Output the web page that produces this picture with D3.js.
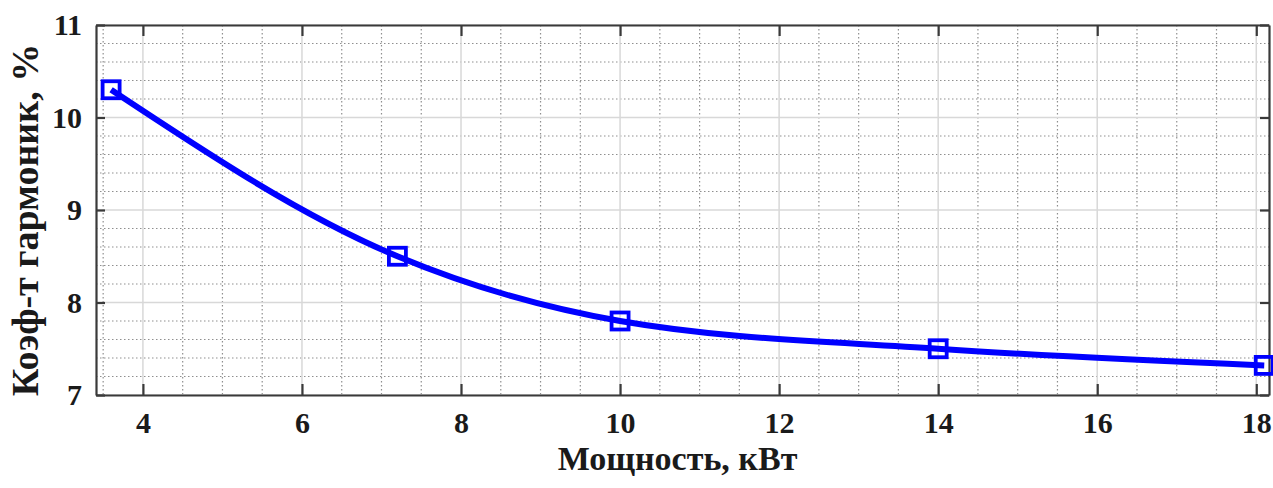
<!DOCTYPE html>
<html>
<head>
<meta charset="utf-8">
<script src="https://cdn.jsdelivr.net/npm/d3@7"></script>
<style>
  body { margin: 0; background: #fff; }
  text { font-family: "Liberation Serif", "Times New Roman", serif; font-weight: bold; fill: #1a1a1a; }
  .tick text { font-family: "Liberation Serif", serif !important; font-weight: bold; }
</style>
</head>
<body>
<div id="chart"></div>
<script>
// data
const power = [3.6, 7.2, 10, 14, 18.1];      // кВт
const harmonic = [10.3, 8.5, 7.8, 7.5, 7.32]; // %
const xTicks = [4, 6, 8, 10, 12, 14, 16, 18];
const yTicks = [7, 8, 9, 10, 11];

const width = 1273, height = 488;
const margin = {top: 25, right: 4, bottom: 93, left: 96};
const w = width - margin.left - margin.right;
const h = height - margin.top - margin.bottom;

const svg = d3.select("#chart").append("svg")
    .attr("width", width)
    .attr("height", height);

const g = svg.append("g")
    .attr("transform", `translate(${margin.left},${margin.top})`);

const x = d3.scaleLinear().domain([3.41, 18.16]).range([0, w]);
const y = d3.scaleLinear().domain([7, 11]).range([h, 0]);

// minor grid (dotted)
const xMinor = d3.range(3.5, 18.2, 0.5).filter(v => v % 2 !== 0);
const yMinor = d3.range(7, 11.01, 0.2).map(v => +v.toFixed(1)).filter(v => v % 1 !== 0);

g.append("g").selectAll("line").data(xMinor).enter().append("line")
    .attr("x1", d => x(d)).attr("x2", d => x(d))
    .attr("y1", 0).attr("y2", h)
    .attr("stroke", "#8f8f8f").attr("stroke-width", 1.2)
    .attr("stroke-dasharray", "1.5,2.5");
g.append("g").selectAll("line").data(yMinor).enter().append("line")
    .attr("x1", 0).attr("x2", w)
    .attr("y1", d => y(d)).attr("y2", d => y(d))
    .attr("stroke", "#8f8f8f").attr("stroke-width", 1.2)
    .attr("stroke-dasharray", "1.5,2.5");

// major grid (solid, light)
g.append("g").selectAll("line").data(xTicks).enter().append("line")
    .attr("x1", d => x(d)).attr("x2", d => x(d))
    .attr("y1", 0).attr("y2", h)
    .attr("stroke", "#d8d8d8").attr("stroke-width", 1.5);
g.append("g").selectAll("line").data(yTicks).enter().append("line")
    .attr("x1", 0).attr("x2", w)
    .attr("y1", d => y(d)).attr("y2", d => y(d))
    .attr("stroke", "#d8d8d8").attr("stroke-width", 1.5);

// axes with inward ticks
const axisColor = "#3a3a3a";
let xaxis = d3.axisBottom(x).tickValues(xTicks).tickFormat(d3.format("d"))
    .tickSizeInner(-11).tickSizeOuter(0).tickPadding(17);
let xaxisTop = d3.axisTop(x).tickValues(xTicks).tickSizeInner(-11).tickSizeOuter(0).tickFormat("");
let yaxis = d3.axisLeft(y).tickValues(yTicks).tickFormat(d3.format("d"))
    .tickSizeInner(-9).tickSizeOuter(0).tickPadding(14);
let yaxisRight = d3.axisRight(y).tickValues(yTicks).tickSizeInner(-9).tickSizeOuter(0).tickFormat("");

const styleAxis = sel => {
  sel.attr("font-family", null).attr("font-size", null);
  sel.select(".domain").attr("stroke", axisColor).attr("stroke-width", 2.2);
  sel.selectAll(".tick line").attr("stroke", axisColor).attr("stroke-width", 2.2);
  sel.selectAll(".tick text")
      .style("font-size", "30px")
      .attr("fill", "#1a1a1a");
};

g.append("g").attr("transform", `translate(0,${h})`).call(xaxis).call(styleAxis);
g.append("g").call(xaxisTop).call(styleAxis);
g.append("g").call(yaxis).call(styleAxis);
g.append("g").attr("transform", `translate(${w},0)`).call(yaxisRight).call(styleAxis);

// curve
const line = d3.line()
    .x((d, i) => x(power[i]))
    .y((d, i) => y(harmonic[i]))
    .curve(d3.curveMonotoneX);

g.append("path")
    .datum(power)
    .attr("d", line)
    .attr("fill", "none")
    .attr("stroke", "#0000ff")
    .attr("stroke-width", 6);

// square markers
const ms = 17;
g.append("g").selectAll("rect").data(power).enter().append("rect")
    .attr("x", (d) => x(d) - ms / 2)
    .attr("y", (d, i) => y(harmonic[i]) - ms / 2)
    .attr("width", ms).attr("height", ms)
    .attr("fill", "none")
    .attr("stroke", "#0000ff")
    .attr("stroke-width", 3.8);

// axis titles
svg.append("text")
    .attr("x", margin.left + w / 2 - 5)
    .attr("y", 470)
    .attr("text-anchor", "middle")
    .style("font-size", "34px")
    .text("Мощность, кВт");

svg.append("text")
    .attr("transform", `translate(38,${margin.top + h / 2 + 10}) rotate(-90)`)
    .attr("text-anchor", "middle")
    .style("font-size", "38px")
    .text("Коэф-т гармоник, %");
</script>
</body>
</html>
